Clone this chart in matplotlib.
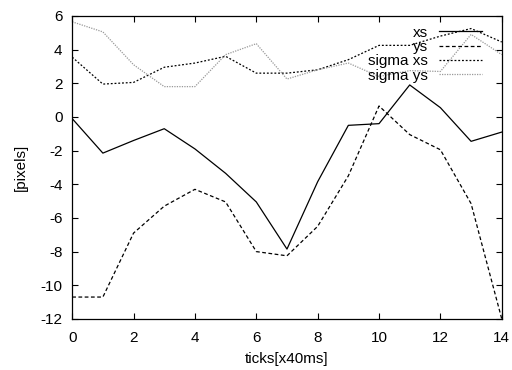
import matplotlib
matplotlib.use('Agg')
import matplotlib.pyplot as plt

# frame index (x40ms)
ticks = list(range(15))

# tracking error per frame, in pixels
xs = [-0.1, -2.15, -1.4, -0.7, -1.9, -3.35, -5.05, -7.85, -3.85, -0.5, -0.4, 1.9, 0.55, -1.45, -0.9]
ys = [-10.7, -10.7, -6.9, -5.3, -4.3, -5.05, -8.0, -8.25, -6.5, -3.5, 0.65, -1.05, -1.95, -5.15, -12.0]
sigma_xs = [3.55, 1.95, 2.05, 2.95, 3.2, 3.6, 2.6, 2.6, 2.8, 3.4, 4.25, 4.25, 4.8, 5.25, 4.45]
sigma_ys = [5.65, 5.05, 3.1, 1.8, 1.8, 3.7, 4.35, 2.25, 2.8, 3.2, 2.4, 2.75, 2.7, 4.9, 3.7]

plt.rcParams['font.family'] = ['Liberation Sans', 'DejaVu Sans']
plt.rcParams['font.size'] = 11
plt.rcParams['axes.unicode_minus'] = False

fig = plt.figure(figsize=(5.12, 3.70), dpi=100)
ax = fig.add_axes([0.141, 0.138, 0.839, 0.819])

ax.plot(ticks, xs, color='black', lw=0.9, label='xs')
ax.plot(ticks, ys, color='black', lw=0.9, dashes=(3, 2), label='ys')
ax.plot(ticks, sigma_xs, color='black', lw=0.9, dashes=(1.5, 1.5), label='sigma xs')
ax.plot(ticks, sigma_ys, color='#999999', lw=0.9, dashes=(1, 1), label='sigma ys')

ax.set_xlim(0, 14)
ax.set_ylim(-12, 6)
ax.set_xticks(range(0, 15, 2))
ax.set_yticks(range(-12, 7, 2))
ax.tick_params(direction='in', top=True, right=True, length=4.5, width=0.8, pad=7)
ax.tick_params(axis='x', pad=9)
for s in ax.spines.values():
    s.set_linewidth(0.9)

ax.set_xlabel('ticks[x40ms]', labelpad=5)
ax.set_ylabel('[pixels]', labelpad=9)

leg = ax.legend(loc='upper right', bbox_to_anchor=(0.9535, 0.968), frameon=False,
                markerfirst=False, handlelength=2.8, handletextpad=0.7,
                labelspacing=0.02, borderaxespad=0, borderpad=0)

fig.savefig('out.png', dpi=100)
